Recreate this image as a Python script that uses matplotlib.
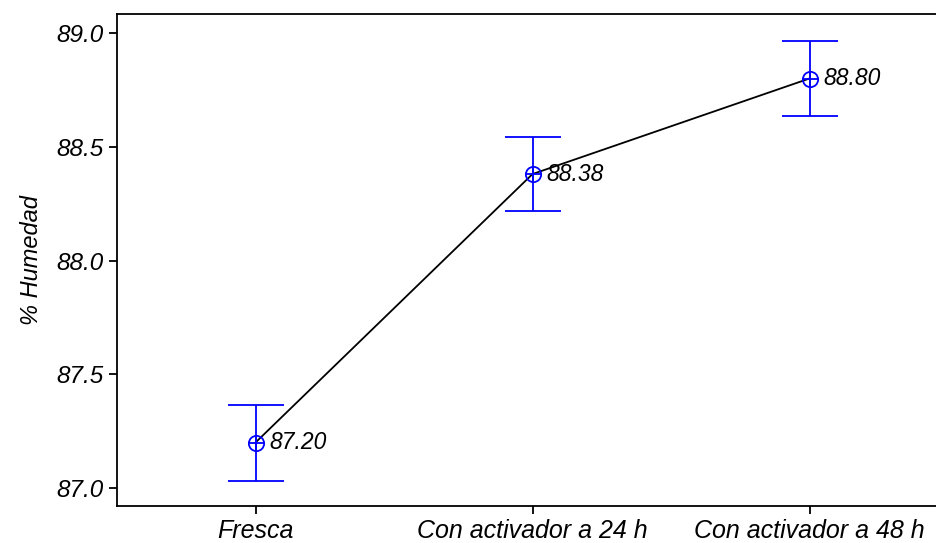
import matplotlib.pyplot as plt

categories = ['Fresca', 'Con activador a 24 h', 'Con activador a 48 h']
humedad = [87.20, 88.38, 88.80]
error = [0.167, 0.163, 0.167]
labels = ['87.20', '88.38', '88.80']

plt.rcParams['font.family'] = ['Liberation Sans', 'DejaVu Sans']
plt.rcParams['font.style'] = 'italic'

fig = plt.figure(figsize=(9.36, 5.43), dpi=100)
ax = fig.add_axes([117 / 936, 37 / 543, 831 / 936, 492 / 543])

x = list(range(len(categories)))
ax.plot(x, humedad, color='black', lw=1.3, zorder=2)
ax.errorbar(x, humedad, yerr=error, fmt='none', ecolor='#0000ff',
            elinewidth=1.3, capsize=20, capthick=1.3, zorder=3)
ax.plot(x, humedad, 'o', mfc='none', mec='#0000ff', ms=11, mew=1.3, zorder=4)
ax.plot(x, humedad, '+', color='#0000ff', ms=11, mew=1.3, zorder=4)

for xi, yi, t in zip(x, humedad, labels):
    ax.annotate(t, (xi, yi), xytext=(10, 0), textcoords='offset points',
                va='center', ha='left', fontsize=16.5, style='italic')

ax.set_xlim(-0.5, 2.5)
ax.set_ylim(86.921, 89.0835)
ax.set_yticks([87.0, 87.5, 88.0, 88.5, 89.0])
ax.set_yticklabels(['87.0', '87.5', '88.0', '88.5', '89.0'])
ax.set_xticks(x)
ax.set_xticklabels(categories)
ax.tick_params(axis='y', labelsize=17.5, length=6, width=1.3)
ax.tick_params(axis='x', labelsize=18, length=6, width=1.3)
ax.set_ylabel('% Humedad', fontsize=17, labelpad=10)
for s in ax.spines.values():
    s.set_linewidth(1.3)

fig.savefig('out.png', dpi=100)
